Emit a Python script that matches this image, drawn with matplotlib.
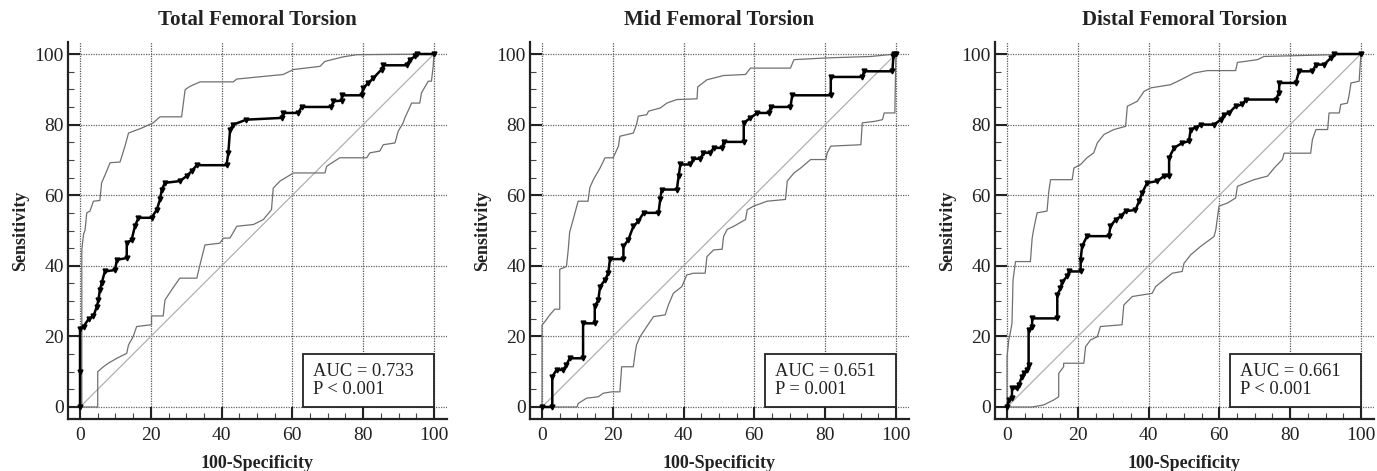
import matplotlib
matplotlib.use("Agg")
import matplotlib.pyplot as plt
from matplotlib.patches import Rectangle
from matplotlib.ticker import MultipleLocator

plt.rcParams['font.family'] = ['Liberation Serif', 'DejaVu Serif']

titles = ["Total Femoral Torsion", "Mid Femoral Torsion", "Distal Femoral Torsion"]
auc_text = ["AUC = 0.733\nP < 0.001", "AUC = 0.651\nP = 0.001", "AUC = 0.661\nP < 0.001"]

# ---- Total femoral torsion ----
total_roc_x = [0, 0, 0, 1.0, 2.4, 3.8, 4.7, 5.2, 5.6, 6.1, 7.0, 9.9, 10.4, 13.2, 13.2, 14.6, 15.5, 16.5, 20.2,
               21.7, 22.6, 23.1, 24.0, 28.2, 30.1, 31.5, 33.0, 41.4, 41.9, 42.4, 43.3, 47.0, 57.0, 57.4, 61.7,
               62.6, 71.0, 71.6, 73.9, 74.0, 79.6, 80.0, 81.5, 82.9, 85.2, 85.7, 92.3, 93.2, 94.6, 95.1, 100]
total_roc_y = [0, 10, 22, 22.8, 24.9, 25.8, 28.3, 30.3, 33.2, 35.0, 38.4, 38.8, 41.7, 42.2, 46.4, 47.4, 51.2, 53.6, 53.6,
               55.9, 58.8, 61.6, 63.5, 64.0, 65.4, 66.8, 68.5, 68.5, 72.0, 78.6, 80.0, 81.4, 81.9, 83.3, 83.3,
               85.0, 85.0, 86.6, 86.8, 88.3, 88.3, 90.4, 91.8, 93.2, 95.6, 96.8, 96.8, 98.4, 99.3, 100, 100]
total_up_x = [0, 0.5, 0.5, 1.0, 1.4, 1.9, 2.8, 3.8, 5.6, 6.1, 7.1, 8.5, 11.3, 12.7, 13.7, 15.0, 17.4, 20.7, 22.6,
              28.7, 29.7, 31.0, 33.9, 43.3, 44.3, 57.4, 60.3, 67.8, 69.2, 74.4, 78.2, 100]
total_up_y = [0, 0, 44.5, 49.0, 50.0, 55.0, 55.5, 58.3, 58.5, 63.5, 65.8, 69.2, 69.4, 73.9, 77.6, 78.1, 79.0, 80.5, 82.2,
              82.2, 89.9, 90.8, 92.1, 92.1, 92.9, 94.2, 95.6, 96.5, 97.9, 99.2, 99.8, 100]
total_lo_x = [0, 5.0, 5.0, 6.6, 8.0, 10.4, 13.2, 13.7, 15.0, 16.0, 20.2, 20.2, 23.5, 24.0, 25.9, 28.2, 33.0, 33.9,
              35.3, 39.5, 40.5, 42.4, 44.3, 49.0, 51.8, 54.1, 54.6, 56.5, 60.3, 69.2, 69.7, 73.4, 81.0, 81.9,
              84.7, 85.7, 89.0, 89.9, 91.3, 91.8, 93.7, 96.0, 96.5, 98.4, 99.3, 99.8, 100]
total_lo_y = [0, 0, 10.0, 11.4, 12.4, 13.8, 15.2, 17.6, 19.9, 22.8, 23.3, 25.8, 25.8, 30.3, 33.2, 36.5, 36.5, 40.3,
              45.9, 46.4, 47.8, 47.9, 51.2, 51.7, 53.1, 55.9, 62.0, 64.0, 66.3, 66.3, 68.2, 70.6, 70.6, 72.0,
              72.5, 74.3, 74.8, 78.1, 80.5, 81.9, 86.1, 86.1, 89.0, 92.3, 92.3, 96.5, 100]

# ---- Mid femoral torsion ----
mid_roc_x = [0, 2.9, 2.9, 4.1, 6.0, 6.9, 7.8, 11.6, 11.6, 14.9, 14.9, 15.9, 16.4, 17.8, 18.7, 19.2, 23.0, 23.0, 24.4,
             25.8, 27.2, 28.7, 32.9, 33.4, 33.8, 38.1, 38.6, 39.1, 41.9, 42.8, 44.7, 45.6, 47.5, 48.5, 50.9,
             51.3, 57.0, 57.0, 58.9, 60.8, 64.1, 64.6, 70.2, 70.7, 81.6, 81.6, 90.5, 91.0, 99.0, 99.3, 99.5, 100]
mid_roc_y = [0, 0, 8.6, 10.5, 10.5, 11.9, 13.8, 13.8, 23.7, 23.7, 28.5, 30.3, 34.1, 36.0, 37.9, 41.9, 41.9, 45.5, 47.4,
             51.2, 52.6, 55.0, 55.0, 58.8, 61.6, 61.6, 65.4, 68.7, 68.7, 70.3, 70.3, 72.0, 72.0, 73.4, 73.4,
             75.1, 75.1, 80.5, 81.9, 83.3, 83.3, 85.0, 85.0, 88.3, 88.3, 93.5, 93.5, 95.1, 95.1, 99.3, 100, 100]
mid_up_x = [0, 0, 1.2, 2.2, 3.6, 5.0, 5.0, 6.9, 7.4, 7.8, 8.8, 10.2, 13.0, 13.5, 14.5, 16.4, 17.8, 20.1, 21.6, 22.0,
            25.8, 26.7, 27.2, 29.6, 30.1, 33.4, 35.3, 38.1, 43.8, 44.0, 46.6, 51.3, 57.5, 58.9, 70.2, 71.2,
            80.6, 92.9, 100]
mid_up_y = [0, 23.2, 24.7, 26.1, 27.7, 27.7, 39.0, 39.8, 44.5, 49.5, 53.1, 58.3, 58.3, 62.1, 64.4, 67.7, 70.6, 70.6,
            73.9, 76.7, 77.6, 80.0, 82.4, 82.8, 83.8, 84.7, 86.1, 87.1, 87.3, 90.7, 92.7, 93.9, 94.2, 96.0,
            96.0, 98.4, 98.9, 99.3, 100]
mid_lo_x = [0, 9.9, 10.2, 12.6, 15.9, 17.3, 19.7, 22.0, 22.5, 25.8, 26.3, 26.7, 27.7, 29.6, 31.5, 34.8, 35.7, 37.1,
            39.5, 40.9, 42.8, 46.1, 46.6, 48.5, 50.9, 51.3, 52.3, 54.2, 57.5, 58.0, 59.8, 63.6, 68.8, 69.3,
            71.2, 73.1, 75.9, 80.2, 80.6, 81.6, 90.1, 90.5, 93.9, 96.2, 96.7, 99.7, 100]
mid_lo_y = [0, 0, 1.0, 2.5, 2.9, 3.9, 4.3, 4.3, 11.4, 11.4, 15.2, 17.6, 19.9, 22.8, 25.6, 26.1, 28.9, 32.2,
            34.1, 37.4, 37.9, 37.9, 42.6, 44.5, 44.7, 48.3, 50.3, 51.2, 53.1, 55.9, 56.9, 58.3, 58.8, 64.0,
            66.3, 67.7, 70.1, 70.1, 72.0, 73.9, 74.3, 80.5, 80.9, 81.4, 83.3, 83.3, 100]

# ---- Distal femoral torsion ----
dist_roc_x = [0, 0.5, 1.4, 1.4, 2.8, 3.3, 4.2, 4.7, 5.7, 6.1, 6.1, 7.1, 7.1, 14.2, 14.2, 15.1, 15.6, 17.0, 17.5,
              20.8, 20.8, 21.2, 22.6, 28.8, 29.2, 30.7, 32.1, 33.5, 36.3, 37.3, 38.2, 39.6, 42.5, 44.3, 45.8,
              45.8, 47.2, 49.5, 51.4, 51.9, 53.3, 54.7, 58.5, 60.4, 61.3, 62.7, 64.6, 66.5, 67.5, 75.9, 76.9,
              76.9, 81.6, 82.5, 86.3, 87.3, 89.6, 91.5, 92.5, 100]
dist_roc_y = [0, 2.0, 2.5, 5.3, 5.3, 6.2, 8.6, 9.5, 10.5, 11.9, 21.8, 22.8, 25.1, 25.1, 31.8, 33.6, 35.5, 37.0, 38.4,
              38.4, 41.7, 45.5, 48.4, 48.4, 51.2, 53.1, 54.0, 55.5, 55.8, 58.3, 60.7, 63.5, 64.0, 65.4, 65.4,
              70.6, 73.4, 74.8, 75.3, 78.6, 79.1, 80.0, 80.0, 81.4, 82.8, 83.3, 85.2, 85.7, 87.1, 87.1, 89.0,
              91.8, 91.8, 95.1, 95.1, 97.0, 97.0, 98.9, 100, 100]
dist_up_x = [0, 0, 0.5, 0.9, 1.4, 1.7, 2.4, 6.6, 7.1, 7.5, 8.5, 11.3, 11.8, 12.3, 18.4, 18.9, 20.8, 22.6, 24.5,
             25.5, 27.4, 30.2, 33.5, 34.0, 36.8, 38.7, 40.6, 46.2, 49.1, 52.8, 56.6, 64.6, 65.1, 70.8, 72.6, 100]
dist_up_y = [0, 14.3, 19.0, 20.9, 23.7, 36.0, 41.2, 41.2, 47.8, 50.2, 55.0, 55.5, 61.1, 64.4, 64.4, 67.7, 68.7,
             70.6, 72.0, 74.8, 77.2, 78.6, 79.5, 85.2, 86.6, 89.4, 90.4, 91.3, 92.7, 94.6, 95.3, 95.3, 97.6,
             98.4, 99.3, 100]
dist_lo_x = [0, 7.1, 10.4, 13.2, 14.6, 14.6, 16.0, 16.0, 21.7, 22.2, 23.6, 25.5, 26.4, 32.5, 33.0, 35.4, 41.0,
             42.0, 44.3, 46.7, 49.5, 50.0, 51.9, 54.7, 56.6, 58.5, 59.0, 59.9, 62.3, 64.6, 65.1, 67.5, 69.8,
             73.6, 75.5, 77.8, 78.3, 85.8, 86.3, 87.3, 90.6, 91.0, 93.9, 94.3, 96.2, 96.7, 97.2, 99.5, 100]
dist_lo_y = [0, 0, 0.6, 2.0, 2.9, 9.5, 11.4, 12.4, 12.4, 17.1, 19.0, 19.9, 22.8, 23.3, 28.9, 31.3, 32.2,
             34.1, 36.0, 37.9, 38.4, 40.7, 43.1, 45.5, 46.9, 48.3, 50.2, 56.9, 57.8, 59.2, 62.5, 63.5, 64.4,
             65.4, 67.7, 70.1, 71.9, 71.9, 75.8, 78.6, 78.6, 83.3, 83.3, 85.7, 86.1, 88.5, 91.8, 92.3, 100]

panels = [
    (total_roc_x, total_roc_y, total_up_x, total_up_y, total_lo_x, total_lo_y),
    (mid_roc_x, mid_roc_y, mid_up_x, mid_up_y, mid_lo_x, mid_lo_y),
    (dist_roc_x, dist_roc_y, dist_up_x, dist_up_y, dist_lo_x, dist_lo_y),
]
diag = [0, 100]
ticks = [0, 20, 40, 60, 80, 100]

W, H = 1377, 471
fig = plt.figure(figsize=(W / 100, H / 100), dpi=100)
lefts = [68, 530, 995]
for i, (rx, ry, ux, uy, lx, ly) in enumerate(panels):
    ax = fig.add_axes([lefts[i] / W, 1 - 419 / H, 379 / W, 377 / H])
    ax.set_xlim(-3.4, 103.7)
    ax.set_ylim(-3.4, 103.4)
    for t in ticks:
        ax.axvline(t, color='#555555', lw=0.9, ls=(0, (1, 1)), zorder=0)
        ax.axhline(t, color='#666666', lw=0.9, ls=(0, (1, 1)), zorder=0)
    ax.plot(diag, diag, color='#b0b0b0', lw=0.9, zorder=1)
    ax.plot(ux, uy, color='#707070', lw=0.9, zorder=2)
    ax.plot(lx, ly, color='#707070', lw=0.9, zorder=2)
    ax.plot(rx, ry, color='black', lw=1.8, marker='v', ms=3.5, zorder=3)
    for s in ['top', 'right']:
        ax.spines[s].set_visible(False)
    for s in ['left', 'bottom']:
        ax.spines[s].set_linewidth(1.6)
        ax.spines[s].set_color('#222222')
    ax.set_xticks(ticks)
    ax.set_yticks(ticks)
    ax.xaxis.set_minor_locator(MultipleLocator(5))
    ax.yaxis.set_minor_locator(MultipleLocator(5))
    ax.tick_params(which='major', direction='in', length=8.5, width=1.5, labelsize=14, colors='#222222')
    ax.tick_params(which='minor', direction='in', length=4, width=0.8, colors='#444444')
    ax.tick_params(axis='x', which='major', pad=6)
    ax.tick_params(axis='y', which='major', pad=3)
    ax.set_title(titles[i], fontsize=15, fontweight='bold', pad=12, color='#222222')
    ax.set_xlabel("100-Specificity", fontsize=13, fontweight='bold', labelpad=8, color='#222222')
    ax.set_ylabel("Sensitivity", fontsize=13, fontweight='bold', labelpad=4, color='#222222')
    ax.add_patch(Rectangle((63, 0), 37, 15, facecolor='white', edgecolor='#222222', lw=1.3, zorder=4))
    ax.text(65.8, 7.5, auc_text[i], fontsize=13.3, va='center', ha='left', linespacing=1.15,
            color='#222222', zorder=5)

fig.savefig("out.png", dpi=100)
